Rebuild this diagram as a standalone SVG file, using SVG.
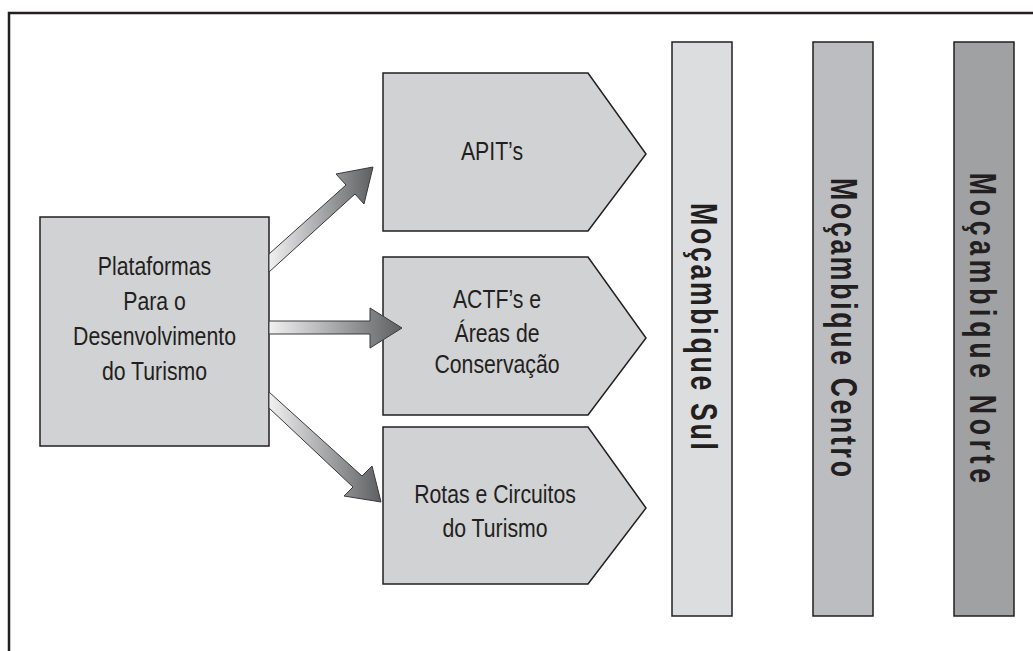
<svg xmlns="http://www.w3.org/2000/svg" width="1033" height="651" viewBox="0 0 1033 651">
<style>
.box{fill:#d1d2d4;stroke:#231f20;stroke-width:1.5}
.lbl{font-family:"Liberation Sans",Arial,sans-serif;font-size:25px;fill:#231f20;text-anchor:middle}
.bar{stroke:#231f20;stroke-width:1.5}
.vlbl{font-family:"Liberation Sans",Arial,sans-serif;font-size:37px;font-weight:bold;fill:#231f20;text-anchor:middle}
.arr{stroke:#3a3a3c;stroke-width:1;stroke-linejoin:miter}
</style>
<defs>
<linearGradient id="g" x1="0" y1="0" x2="1" y2="0">
<stop offset="0" stop-color="#f1f1f2"/>
<stop offset="1" stop-color="#5e5f61"/>
</linearGradient>
</defs>
<rect width="1033" height="651" fill="#fff"/>
<path d="M9,651 V13 H1033" fill="none" stroke="#231f20" stroke-width="2.5"/>

<g id="plataformas">
<rect class="box" x="40" y="217" width="229" height="229"/>
<g transform="translate(154.5,0) scale(0.85,1)">
<text class="lbl" x="0" y="275">Plataformas</text>
<text class="lbl" x="0" y="310">Para o</text>
<text class="lbl" x="0" y="345">Desenvolvimento</text>
<text class="lbl" x="0" y="380">do Turismo</text>
</g>
</g>

<g id="apits">
<polygon class="box" points="383,73 588,73 646,154 588,231 383,231"/>
<g transform="translate(492,0) scale(0.85,1)">
<text class="lbl" x="0" y="160">APIT’s</text>
</g>
</g>

<g id="actf">
<polygon class="box" points="383,257 588,257 646,338 588,415 383,415"/>
<g transform="translate(497,0) scale(0.85,1)">
<text class="lbl" x="0" y="308">ACTF’s e</text>
<text class="lbl" x="0" y="342">Áreas de</text>
<text class="lbl" x="0" y="373">Conservação</text>
</g>
</g>

<g id="rotas">
<polygon class="box" points="383,427 588,427 646,508 588,584 383,584"/>
<g transform="translate(495,0) scale(0.85,1)">
<text class="lbl" x="0" y="503">Rotas e Circuitos</text>
<text class="lbl" x="0" y="537">do Turismo</text>
</g>
</g>

<g id="connectors">
<polygon class="arr" fill="url(#g)" points="269,254 346,185 336,174 373,167 364,204 355,194 269,272"/>
<polygon class="arr" fill="url(#g)" points="269,321 370,321 370,308 402,328 370,348 370,334 269,334"/>
<polygon class="arr" fill="url(#g)" points="269,392 362,476 372,466 381,502 344,496 353,487 269,408"/>
</g>

<g id="sul">
<rect class="bar" x="672" y="42" width="60" height="574" fill="#dcdddf"/>
<text class="vlbl" transform="translate(691,326.5) rotate(90) scale(0.72,1)" textLength="343" lengthAdjust="spacing">Moçambique Sul</text>
</g>
<g id="centro">
<rect class="bar" x="813" y="42" width="60" height="574" fill="#bcbdc0"/>
<text class="vlbl" transform="translate(831,327.5) rotate(90) scale(0.72,1)" textLength="415" lengthAdjust="spacing">Moçambique Centro</text>
</g>
<g id="norte">
<rect class="bar" x="954" y="42" width="60" height="574" fill="#a0a1a3"/>
<text class="vlbl" transform="translate(970,328) rotate(90) scale(0.72,1)" textLength="431" lengthAdjust="spacing">Moçambique Norte</text>
</g>
</svg>
